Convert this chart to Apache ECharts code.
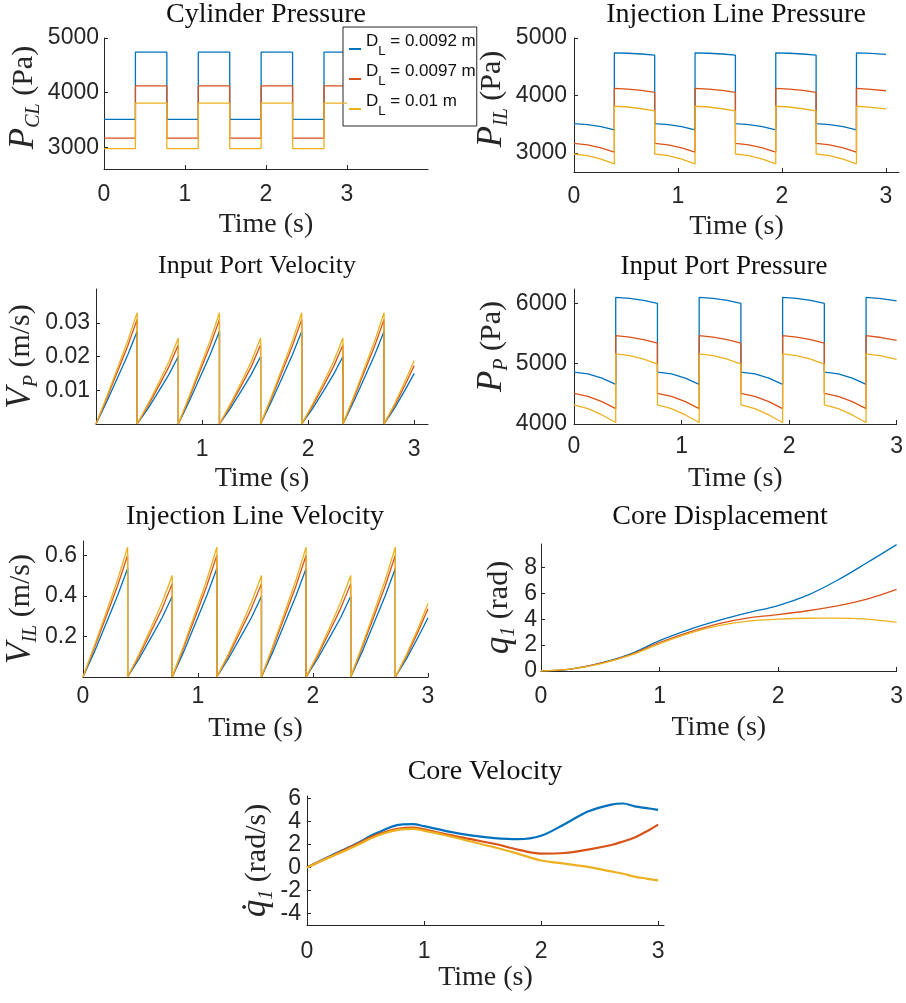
<!DOCTYPE html>
<html><head><meta charset="utf-8">
<script src="https://cdn.jsdelivr.net/npm/echarts@6/dist/echarts.min.js"></script>
<style>html,body{margin:0;padding:0;background:#fff}#c{width:906px;height:1003px}</style>
</head><body><div id="c"></div>
<script>
// ---------------- DATA ----------------
const seriesNames = ['D_L = 0.0092 m', 'D_L = 0.0097 m', 'D_L = 0.01 m'];
const legendValues = ['0.0092', '0.0097', '0.01'];
const colors = ['#0072BD', '#D95319', '#EDB120'];
const switchTimes = [0, 0.388, 0.776, 1.164, 1.552, 1.94, 2.328, 2.716, 3.0];

// Cylinder pressure (Pa), constant per phase [blue, red, yellow]
const cylLow = [3510, 3165, 2975];
const cylHigh = [4740, 4122, 3808];

// sample offsets inside a pressure phase
const phaseOffsets = [0, 0.13, 0.26, 0.388];
const lastOffsets = [0, 0.14, 0.284];
// Injection line pressure (Pa)
const ilpLow = [[3512, 3495, 3460, 3403], [3166, 3140, 3090, 3017], [2983, 2955, 2895, 2810]];
const ilpHigh = [[4742, 4735, 4722, 4701], [4125, 4112, 4088, 4055], [3813, 3800, 3770, 3732]];
const ilpLast = [[4742, 4733, 4716], [4125, 4108, 4083], [3813, 3793, 3766]];
// Input port pressure (Pa)
const ippLow = [[4860, 4830, 4760, 4658], [4509, 4460, 4370, 4255], [4318, 4255, 4150, 4025]];
const ippHigh = [[6100, 6085, 6050, 6000], [5465, 5440, 5400, 5340], [5165, 5135, 5075, 4995]];
const ippLast = [[6100, 6080, 6043], [5465, 5435, 5387], [5165, 5130, 5073]];

// sample offsets inside a velocity ramp
const rampOffsets = [0, 0.1, 0.2, 0.3, 0.388];
const rampLastOffsets = [0, 0.1, 0.2, 0.284];
// Input port velocity (m/s)
const vpBig = [[0, 0.0065, 0.0135, 0.0205, 0.0275], [0, 0.0075, 0.0153, 0.0232, 0.031], [0, 0.008, 0.0163, 0.0247, 0.033]];
const vpSmall = [[0, 0.0045, 0.0095, 0.0147, 0.020], [0, 0.0053, 0.011, 0.017, 0.0235], [0, 0.0058, 0.012, 0.0185, 0.0255]];
const vpLast = [[0, 0.0048, 0.0102, 0.015], [0, 0.0055, 0.0117, 0.0173], [0, 0.006, 0.0128, 0.0188]];
// Injection line velocity (m/s)
const vilBig = [[0, 0.125, 0.262, 0.40, 0.535], [0, 0.145, 0.296, 0.448, 0.60], [0, 0.155, 0.315, 0.478, 0.64]];
const vilSmall = [[0, 0.09, 0.19, 0.292, 0.398], [0, 0.104, 0.219, 0.337, 0.46], [0, 0.113, 0.238, 0.367, 0.50]];
const vilLast = [[0, 0.093, 0.198, 0.292], [0, 0.106, 0.226, 0.336], [0, 0.114, 0.243, 0.362]];

// Core displacement (rad)
const dispT = [0, 0.25, 0.5, 0.75, 1.0, 1.25, 1.5, 1.75, 2.0, 2.25, 2.5, 2.75, 3.0];
const coreDisp = [
  [0, 0.15, 0.6, 1.3, 2.35, 3.2, 3.9, 4.5, 5.05, 5.85, 7.0, 8.35, 9.75],
  [0, 0.15, 0.58, 1.25, 2.2, 3.0, 3.65, 4.1, 4.35, 4.65, 5.03, 5.55, 6.3],
  [0, 0.14, 0.55, 1.2, 2.1, 2.9, 3.5, 3.85, 4.0, 4.07, 4.08, 4.0, 3.75]
];
// Core velocity (rad/s)
const velT = [0, 0.2, 0.4, 0.6, 0.8, 0.9, 1.0, 1.2, 1.4, 1.6, 1.8, 2.0, 2.2, 2.4, 2.6, 2.7, 2.8, 2.9, 3.0];
const coreVel = [
  [0, 1.0, 1.95, 3.0, 3.72, 3.75, 3.58, 3.13, 2.78, 2.55, 2.45, 2.75, 3.75, 4.85, 5.45, 5.55, 5.3, 5.15, 5.0],
  [0, 0.95, 1.9, 2.85, 3.4, 3.45, 3.3, 2.85, 2.45, 2.05, 1.55, 1.2, 1.25, 1.55, 1.95, 2.25, 2.6, 3.12, 3.72],
  [0, 0.9, 1.8, 2.75, 3.3, 3.35, 3.2, 2.75, 2.25, 1.75, 1.2, 0.6, 0.33, 0.05, -0.35, -0.55, -0.8, -0.97, -1.13]
];

// Titles / axis names / ticks
const titles = ['Cylinder Pressure', 'Injection Line Pressure', 'Input Port Velocity', 'Input Port Pressure',
  'Injection Line Velocity', 'Core Displacement', 'Core Velocity'];
const xName = 'Time (s)';
const yMain = ['P', 'P', 'V', 'P', 'V', 'q', 'q̇'];
const ySub = ['CL', 'IL', 'P', 'P', 'IL', '1', '1'];
const yUnit = [' (Pa)', ' (Pa)', ' (m/s)', ' (Pa)', ' (m/s)', ' (rad)', ' (rad/s)'];
const xRanges = [[0, 4], [0, 3.125], [0, 3.13], [0, 3], [0, 3], [0, 3], [0, 3.05]];
const xTickLabels = [[0, 1, 2, 3], [0, 1, 2, 3], [1, 2, 3], [0, 1, 2, 3], [0, 1, 2, 3], [0, 1, 2, 3], [0, 1, 2, 3]];
const yRanges = [[2600, 5000], [2670, 5000], [0, 0.04], [4000, 6240], [0, 0.67], [0, 9.8], [-5, 6.2]];
const yTickLabels = [[3000, 4000, 5000], [3000, 4000, 5000], [0.01, 0.02, 0.03], [4000, 5000, 6000],
  [0.2, 0.4, 0.6], [0, 2, 4, 6, 8], [-4, -2, 0, 2, 4, 6]];

// ---------------- LAYOUT ----------------
const grids = [
  {left: 104, top: 38, width: 324, height: 131},
  {left: 574, top: 38, width: 325, height: 134},
  {left: 96, top: 289, width: 332, height: 135},
  {left: 574, top: 289, width: 323, height: 135},
  {left: 83, top: 541, width: 345, height: 136},
  {left: 541, top: 544, width: 356, height: 127},
  {left: 307, top: 796, width: 357, height: 129}
];
const titlePos = [[266, 1, 28], [736, 1, 28], [257, 253, 26], [724, 253, 27], [255, 503, 28], [720, 503, 28], [485, 758, 28]];
const xNameGap = [42, 41, 41, 41, 38, 43, 35];
const xLabelMargin = [14, 13, 14, 11, 8, 14, 15];
const yNameGap = [57, 48, 48, 51, 35, 22, 26];
const yNameShift = [12, 12, 0, 20, 0, 0, 0];
const yLabelMargin = [5, 7, 6, 7, 6, 4, 6];

const AX = '#262626';
const SANS = 'Liberation Sans';
const SERIF = 'Liberation Serif';

// ---------------- SERIES BUILDERS ----------------
function stepData(low, high) {
  const d = [];
  for (let k = 0; k < switchTimes.length - 1; k++) {
    const v = k % 2 === 0 ? low : high;
    d.push([switchTimes[k], v], [switchTimes[k + 1], v]);
  }
  return d;
}
function phaseData(low, high, last, offs, lastOffs) {
  const d = [];
  const n = switchTimes.length - 1;
  for (let k = 0; k < n; k++) {
    const isLast = k === n - 1;
    const prof = isLast ? last : (k % 2 === 0 ? low : high);
    const o = isLast ? lastOffs : offs;
    for (let i = 0; i < o.length; i++) d.push([switchTimes[k] + o[i], prof[i]]);
  }
  return d;
}
function pairs(t, v) { return t.map((x, i) => [x, v[i]]); }

const seriesData = [];
for (let s = 0; s < 3; s++) {
  seriesData.push([
    stepData(cylLow[s], cylHigh[s]),
    phaseData(ilpLow[s], ilpHigh[s], ilpLast[s], phaseOffsets, lastOffsets),
    phaseData(vpBig[s], vpSmall[s], vpLast[s], rampOffsets, rampLastOffsets),
    phaseData(ippLow[s], ippHigh[s], ippLast[s], phaseOffsets, lastOffsets),
    phaseData(vilBig[s], vilSmall[s], vilLast[s], rampOffsets, rampLastOffsets),
    pairs(dispT, coreDisp[s]),
    pairs(velT, coreVel[s])
  ]);
}

// ---------------- OPTION ----------------
function nameRich(shift) {
  return {
    m: {fontFamily: SERIF, fontStyle: 'italic', fontSize: 35, color: AX, verticalAlign: 'bottom', lineHeight: 36, padding: [0, 0, 3, shift]},
    s: {fontFamily: SERIF, fontStyle: 'italic', fontSize: 20, color: AX, verticalAlign: 'bottom', lineHeight: 24},
    n: {fontFamily: SERIF, fontSize: 30, color: AX, verticalAlign: 'bottom', lineHeight: 32, padding: [0, 0, 5, 0]}
  };
}
const fmt = v => String(v);

const option = {
  animation: false,
  backgroundColor: '#fff',
  color: colors,
  title: titles.map((t, i) => ({
    text: t, left: titlePos[i][0], top: titlePos[i][1], textAlign: 'center', padding: 0,
    textStyle: {fontFamily: SERIF, fontSize: titlePos[i][2], fontWeight: 'normal', color: '#111'}
  })),
  legend: {
    data: seriesNames,
    left: 343, top: 27, orient: 'vertical',
    backgroundColor: '#fff', borderColor: AX, borderWidth: 1,
    padding: [6, 1, 8, 6], itemGap: 5,
    itemWidth: 12, itemHeight: 2, icon: 'rect', selectedMode: false,
    formatter: function (name) {
      const idx = seriesNames.indexOf(name);
      return '{a|D}{s|L}{a| = ' + legendValues[idx] + ' m}';
    },
    textStyle: {
      fontFamily: SANS, fontSize: 17, color: '#111',
      rich: {
        a: {fontFamily: SANS, fontSize: 17, color: '#111', lineHeight: 18, padding: [0, 0, 8, 0], verticalAlign: 'bottom'},
        s: {fontFamily: SANS, fontSize: 13, color: '#111', lineHeight: 14, verticalAlign: 'bottom'}
      }
    }
  },
  grid: grids.map(g => Object.assign({containLabel: false}, g)),
  xAxis: grids.map((g, i) => ({
    type: 'value', gridIndex: i, min: xRanges[i][0], max: xRanges[i][1],
    name: xName, nameLocation: 'middle', nameGap: xNameGap[i],
    nameTextStyle: {fontFamily: SERIF, fontSize: 28, color: '#222'},
    axisLine: {onZero: false, lineStyle: {color: AX, width: 1}},
    axisTick: {inside: true, length: 4, customValues: xTickLabels[i].concat(i === 2 ? [0] : []), lineStyle: {color: AX}},
    axisLabel: {customValues: xTickLabels[i], formatter: fmt, margin: xLabelMargin[i], fontFamily: SANS, fontSize: 23, color: AX},
    splitLine: {show: false}
  })),
  yAxis: grids.map((g, i) => ({
    type: 'value', gridIndex: i, min: yRanges[i][0], max: yRanges[i][1],
    name: '{m|' + yMain[i] + '}{s|' + ySub[i] + '}{n|' + yUnit[i] + '}',
    nameLocation: 'middle', nameRotate: 90, nameGap: yNameGap[i],
    nameTextStyle: {fontFamily: SERIF, fontSize: 30, color: AX, rich: nameRich(yNameShift[i])},
    axisLine: {show: true, onZero: false, lineStyle: {color: AX, width: 1}},
    axisTick: {show: true, inside: true, length: 4, customValues: yTickLabels[i], lineStyle: {color: AX}},
    axisLabel: {customValues: yTickLabels[i], formatter: fmt, margin: yLabelMargin[i], fontFamily: SANS, fontSize: 23, color: AX},
    splitLine: {show: false}
  })),
  series: []
};

for (let p = 0; p < 7; p++) {
  for (let s = 0; s < 3; s++) {
    option.series.push({
      name: seriesNames[s], type: 'line', xAxisIndex: p, yAxisIndex: p,
      data: seriesData[s][p], showSymbol: false, symbol: 'none',
      smooth: p >= 5 ? 0.35 : false,
      lineStyle: {width: p === 6 ? 2.2 : 1.3, color: colors[s]},
      itemStyle: {color: colors[s]},
      emphasis: {disabled: true}, z: 2 + s
    });
  }
}

const chart = echarts.init(document.getElementById('c'), null, {renderer: 'canvas'});
chart.setOption(option);
</script>
</body></html>
